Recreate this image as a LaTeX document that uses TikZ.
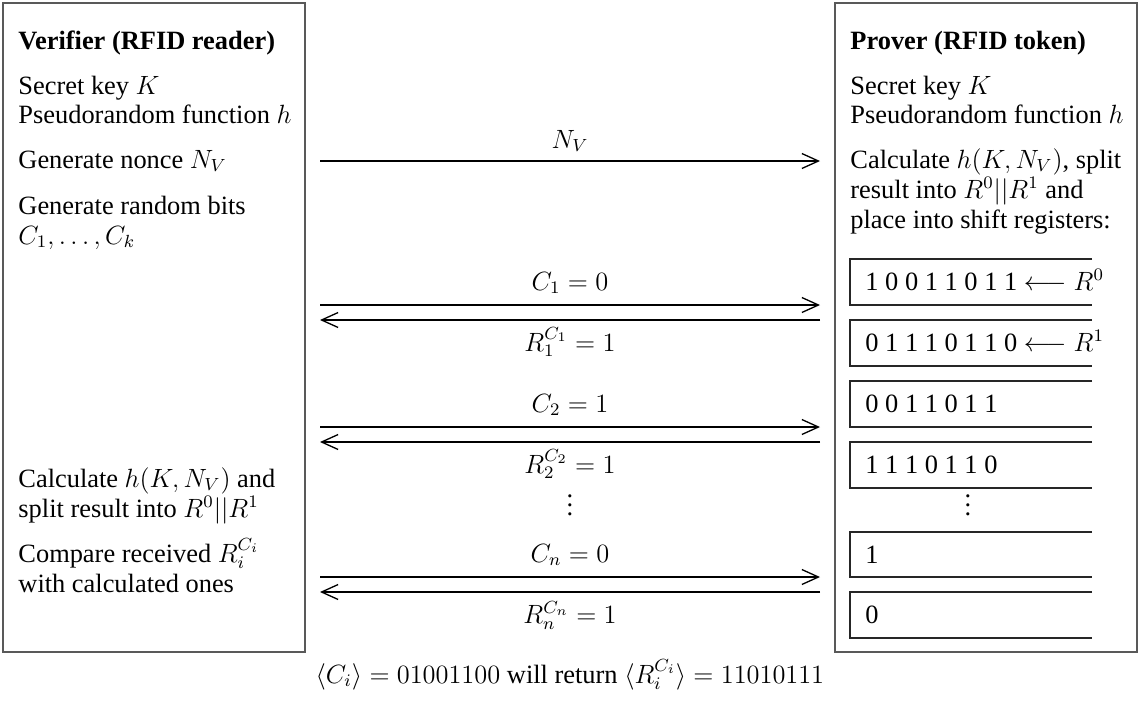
\RequirePackage{fix-cm}
\documentclass[tikz,border=0pt]{standalone}
\usepackage{fontspec}
\setmainfont{Liberation Serif}
\usetikzlibrary{arrows.meta}
\tikzset{
  txt/.style={anchor=base west, inner sep=0pt, font=\fontsize{12}{13.64}\selectfont},
  lab/.style={anchor=base, inner sep=0pt, font=\fontsize{12}{13.64}\selectfont},
  party/.style={draw=black!65, line width=0.7pt},
  reg/.style={draw=black!85, line width=0.7pt},
  msg/.style={line width=0.6pt, -{Straight Barb[length=7.5pt,width=6.8pt]}},
}
\begin{document}
\begin{tikzpicture}[x=0.4545pt,y=-0.4545pt]
\useasboundingbox (0,0) rectangle (1141,716);
% party frames
\draw[party] (3,3) rectangle (305,652);
\draw[party] (835,3) rectangle (1137,652);
% verifier texts
\node[txt] (vt) at (18,49) {\bfseries Verifier (RFID reader)};
\node[txt] (v1) at (18,94) {Secret key $K$};
\node[txt] (v2) at (18,123) {Pseudorandom function $h$};
\node[txt] (v3) at (18,168) {Generate nonce $N_V$};
\node[txt] (v4) at (18,214) {Generate random bits};
\node[txt] (v5) at (18,244) {$C_1,\ldots,C_k$};
\node[txt] (v6) at (18,487) {Calculate $h(K,N_V)$ and};
\node[txt] (v7) at (18,517) {split result into $R^0||R^1$};
\node[txt] (v8) at (18,562) {Compare received $R_i^{C_i}$};
\node[txt] (v9) at (18,592) {with calculated ones};
% prover texts
\node[txt] (pt) at (850,49) {\bfseries Prover (RFID token)};
\node[txt] (p1) at (850,94) {Secret key $K$};
\node[txt] (p2) at (850,123) {Pseudorandom function $h$};
\node[txt] (p3) at (850,168) {Calculate $h(K,N_V)$, split};
\node[txt] (p4) at (850,198) {result into $R^0||R^1$ and};
\node[txt] (p5) at (850,228) {place into shift registers:};
% shift registers (open on the right)
\foreach \t/\b in {259/305,320/366,381/427,442/488,532/577,592/638}
  \draw[reg] (1092,\t) -- (850,\t) -- (850,\b) -- (1092,\b);
\node[txt] (r1) at (865,290) {1 0 0 1 1 0 1 1 $\longleftarrow R^0$};
\node[txt] (r2) at (865,351) {0 1 1 1 0 1 1 0 $\longleftarrow R^1$};
\node[txt] (r3) at (865,412) {0 0 1 1 0 1 1};
\node[txt] (r4) at (865,473) {1 1 1 0 1 1 0};
\node[lab, anchor=center] (rd) at (968,499) {$\vdots$};
\node[txt] (r5) at (865,563) {1};
\node[txt] (r6) at (865,623) {0};
% message coordinates
\coordinate (nL) at (320,161); \coordinate (nR) at (820,161);
\coordinate (c1L) at (320,305); \coordinate (c1R) at (820,305);
\coordinate (d1L) at (320,320); \coordinate (d1R) at (820,320);
\coordinate (c2L) at (320,427); \coordinate (c2R) at (820,427);
\coordinate (d2L) at (320,442); \coordinate (d2R) at (820,442);
\coordinate (cnL) at (320,577); \coordinate (cnR) at (820,577);
\coordinate (dnL) at (320,592); \coordinate (dnR) at (820,592);
\draw[msg] (nL) -- (nR);
\draw[msg] (c1L) -- (c1R);
\draw[msg] (d1R) -- (d1L);
\draw[msg] (c2L) -- (c2R);
\draw[msg] (d2R) -- (d2L);
\draw[msg] (cnL) -- (cnR);
\draw[msg] (dnR) -- (dnL);
% message labels
\node[lab] (lnv) at (570,148) {$N_V$};
\node[lab] (lc1) at (570,290) {$C_1=0$};
\node[lab] (lr1) at (570,351) {$R_1^{C_1}=1$};
\node[lab] (lc2) at (570,412) {$C_2=1$};
\node[lab] (lr2) at (570,473) {$R_2^{C_2}=1$};
\node[lab, anchor=center] (ld) at (570,499) {$\vdots$};
\node[lab] (lcn) at (570,562) {$C_n=0$};
\node[lab] (lrn) at (570,623) {$R_n^{C_n}=1$};
% bottom caption
\node[lab] (cap) at (570,683) {$\langle C_i\rangle = 01001100$ will return $\langle R_i^{C_i}\rangle = 11010111$};
\end{tikzpicture}
\end{document}
